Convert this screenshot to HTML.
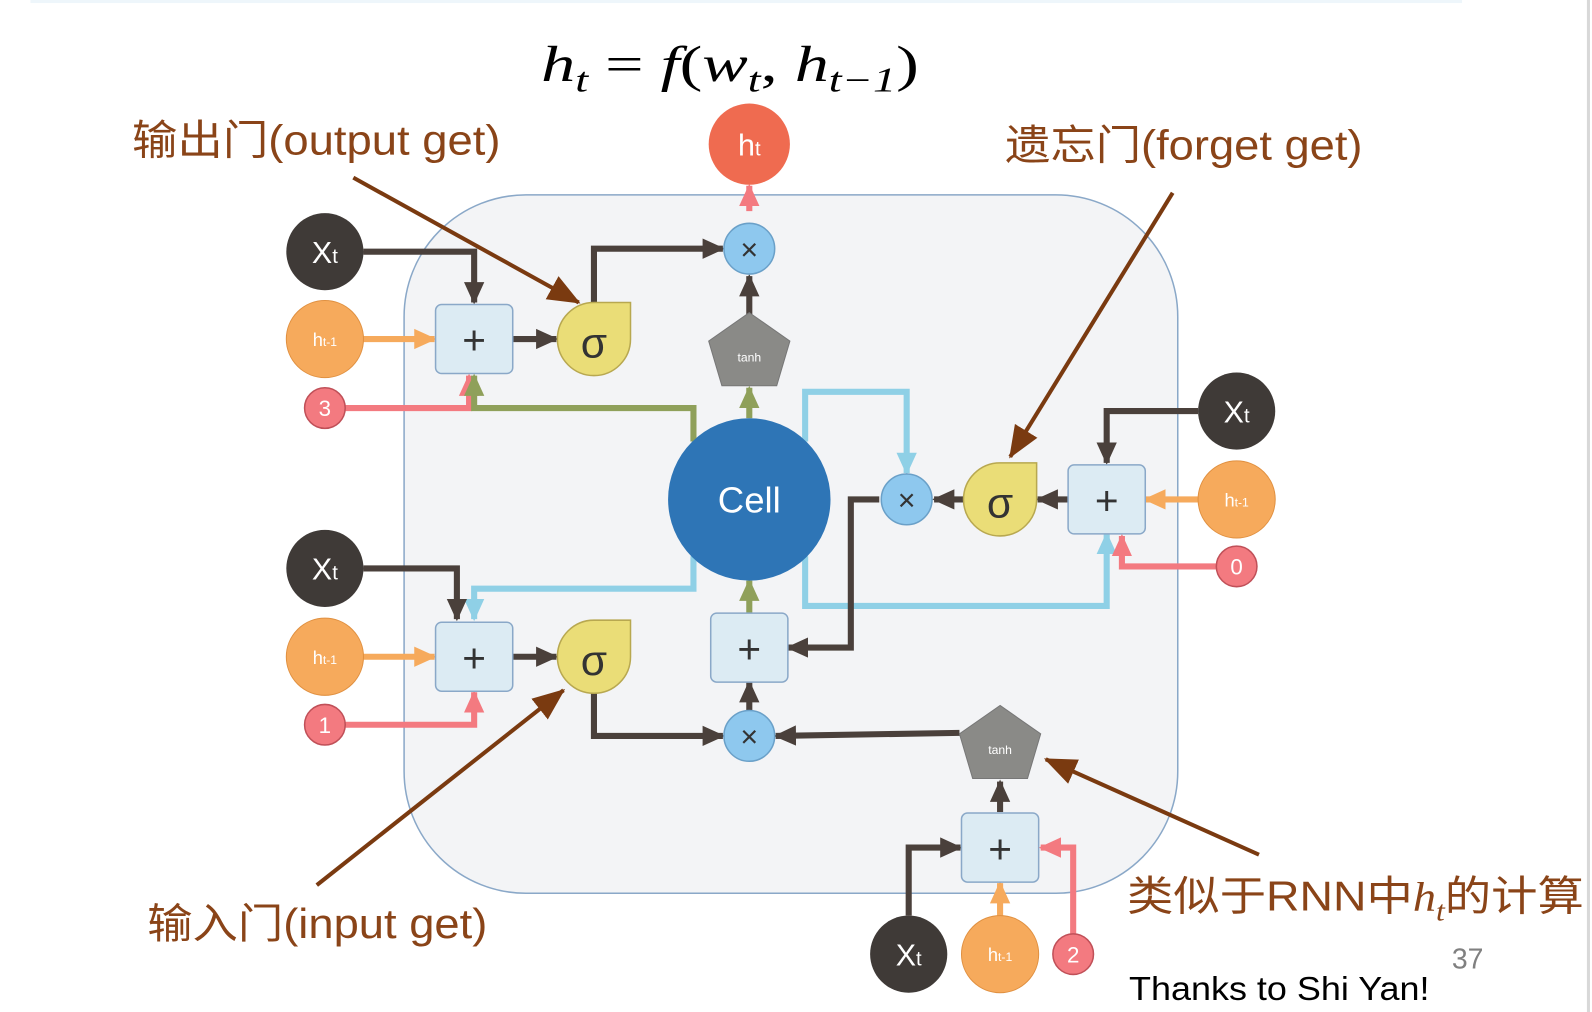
<!DOCTYPE html>
<html><head><meta charset="utf-8"><style>html,body{margin:0;padding:0;background:#fff;}svg{display:block}</style></head>
<body>
<svg width="1592" height="1012" viewBox="0 0 1568 997" preserveAspectRatio="none" xmlns="http://www.w3.org/2000/svg" font-family="Liberation Sans, Noto Sans CJK SC, sans-serif">
<defs>
<marker id="md" markerUnits="userSpaceOnUse" markerWidth="24" markerHeight="24" refX="20" refY="12" orient="auto"><path d="M0,2 L22,12 L0,22 Z" fill="#4a403b"/></marker>
<marker id="mo" markerUnits="userSpaceOnUse" markerWidth="24" markerHeight="24" refX="20" refY="12" orient="auto"><path d="M0,2 L22,12 L0,22 Z" fill="#f6aa5c"/></marker>
<marker id="mr" markerUnits="userSpaceOnUse" markerWidth="24" markerHeight="24" refX="20" refY="12" orient="auto"><path d="M0,2 L22,12 L0,22 Z" fill="#f37a80"/></marker>
<marker id="mg" markerUnits="userSpaceOnUse" markerWidth="24" markerHeight="24" refX="20" refY="12" orient="auto"><path d="M0,2 L22,12 L0,22 Z" fill="#8fa05a"/></marker>
<marker id="mb" markerUnits="userSpaceOnUse" markerWidth="24" markerHeight="24" refX="20" refY="12" orient="auto"><path d="M0,2 L22,12 L0,22 Z" fill="#8fd0e6"/></marker>
<marker id="mn" markerUnits="userSpaceOnUse" markerWidth="34" markerHeight="30" refX="30" refY="15" orient="auto"><path d="M0,2 L32,15 L0,28 Z" fill="#7a3a10"/></marker>
</defs>
<rect x="30" y="0" width="1410" height="3" fill="#eef6fb"/>
<rect x="1563" y="0" width="3" height="997" fill="#d8d8d8"/>
<rect x="398" y="192" width="762" height="688" rx="120" fill="#f3f4f6" stroke="#8aa8c8" stroke-width="1.5"/>

<g fill="none" stroke-width="6">
<path d="M683,548 V580 H467 V610" stroke="#8fd0e6" marker-end="url(#mb)"/>
<path d="M793,435 V386 H893 V466" stroke="#8fd0e6" marker-end="url(#mb)"/>
<path d="M793,548 V597 H1090 V526" stroke="#8fd0e6" marker-end="url(#mb)"/>
<path d="M340,402 H462 V370" stroke="#f37a80" marker-end="url(#mr)"/>
<path d="M340,714 H467 V682" stroke="#f37a80" marker-end="url(#mr)"/>
<path d="M1198,558 H1105 V528" stroke="#f37a80" marker-end="url(#mr)"/>
<path d="M1057,920 V835 H1025" stroke="#f37a80" marker-end="url(#mr)"/>
<path d="M738,208 V183" stroke="#f37a80" marker-end="url(#mr)"/>
<path d="M683,435 V402 H467 V370" stroke="#8fa05a" marker-end="url(#mg)"/>
<path d="M738,412 V382" stroke="#8fa05a" marker-end="url(#mg)"/>
<path d="M738,604 V572" stroke="#8fa05a" marker-end="url(#mg)"/>
<path d="M358,334 H428" stroke="#f6aa5c" marker-end="url(#mo)"/>
<path d="M358,647 H428" stroke="#f6aa5c" marker-end="url(#mo)"/>
<path d="M1180,492 H1128" stroke="#f6aa5c" marker-end="url(#mo)"/>
<path d="M985,902 V870" stroke="#f6aa5c" marker-end="url(#mo)"/>
<path d="M358,248 H467 V298" stroke="#4a403b" marker-end="url(#md)"/>
<path d="M505,334 H548" stroke="#4a403b" marker-end="url(#md)"/>
<path d="M585,300 V245 H712" stroke="#4a403b" marker-end="url(#md)"/>
<path d="M738,310 V272" stroke="#4a403b" marker-end="url(#md)"/>
<path d="M1180,405 H1090 V456" stroke="#4a403b" marker-end="url(#md)"/>
<path d="M1052,492 H1022" stroke="#4a403b" marker-end="url(#md)"/>
<path d="M950,492 H920" stroke="#4a403b" marker-end="url(#md)"/>
<path d="M866,492 H838 V638 H776" stroke="#4a403b" marker-end="url(#md)"/>
<path d="M738,700 V672" stroke="#4a403b" marker-end="url(#md)"/>
<path d="M585,683 V725 H712" stroke="#4a403b" marker-end="url(#md)"/>
<path d="M945,722 L764,725" stroke="#4a403b" marker-end="url(#md)"/>
<path d="M985,800 V770" stroke="#4a403b" marker-end="url(#md)"/>
<path d="M895,902 V835 H946" stroke="#4a403b" marker-end="url(#md)"/>
<path d="M358,560 H450 V610" stroke="#4a403b" marker-end="url(#md)"/>
<path d="M505,647 H548" stroke="#4a403b" marker-end="url(#md)"/>
</g>

<g font-size="30" text-anchor="middle">
<circle cx="738" cy="142" r="40" fill="#ef6b50"/><text x="738" y="153" fill="#fff">h<tspan font-size="20">t</tspan></text>
<circle cx="738" cy="492" r="80" fill="#2e75b6"/><text x="738" y="505" fill="#fff" font-size="36">Cell</text>
</g>
<g stroke="#6aa0c8" stroke-width="1.5" fill="#8ec8ee">
<circle cx="738" cy="245" r="25"/><circle cx="738" cy="725" r="25"/><circle cx="893" cy="492" r="25"/>
</g>
<g font-size="30" text-anchor="middle" fill="#333">
<text x="738" y="256">×</text><text x="738" y="736">×</text><text x="893" y="503">×</text>
</g>
<g fill="#8a8a87" stroke="#777" stroke-width="1">
<path d="M738,308 L778,336 L765,380 L711,380 L698,336 Z"/>
<path d="M985,695 L1025,723 L1012,767 L958,767 L945,723 Z"/>
</g>
<g fill="#fff" font-size="12" text-anchor="middle"><text x="738" y="356">tanh</text><text x="985" y="743">tanh</text></g>
<g fill="#dcebf3" stroke="#8aa8c8" stroke-width="1.5">
<rect x="429" y="300" width="76" height="68" rx="6"/><rect x="429" y="613" width="76" height="68" rx="6"/>
<rect x="700" y="604" width="76" height="68" rx="6"/><rect x="1052" y="458" width="76" height="68" rx="6"/>
<rect x="947" y="801" width="76" height="68" rx="6"/>
</g>
<g font-size="40" text-anchor="middle" fill="#333">
<text x="467" y="349">+</text><text x="467" y="662">+</text><text x="738" y="653">+</text><text x="1090" y="507">+</text><text x="985" y="850">+</text>
</g>
<g fill="#eadd77" stroke="#b8a850" stroke-width="1.5">
<path d="M549,334 A36,36 0 0 0 585,370 A36,36 0 0 0 621,334 L621,298 L585,298 A36,36 0 0 0 549,334 Z"/>
<path d="M549,647 A36,36 0 0 0 585,683 A36,36 0 0 0 621,647 L621,611 L585,611 A36,36 0 0 0 549,647 Z"/>
<path d="M949,492 A36,36 0 0 0 985,528 A36,36 0 0 0 1021,492 L1021,456 L985,456 A36,36 0 0 0 949,492 Z"/>
</g>
<g font-size="42" text-anchor="middle" fill="#333"><text x="585" y="352">σ</text><text x="585" y="665">σ</text><text x="985" y="510">σ</text></g>

<g fill="#3f3a37"><circle cx="320" cy="248" r="38"/><circle cx="320" cy="560" r="38"/><circle cx="1218" cy="405" r="38"/><circle cx="895" cy="940" r="38"/></g>
<g fill="#fff" font-size="30" text-anchor="middle">
<text x="320" y="259">X<tspan font-size="20">t</tspan></text><text x="320" y="571">X<tspan font-size="20">t</tspan></text>
<text x="1218" y="416">X<tspan font-size="20">t</tspan></text><text x="895" y="951">X<tspan font-size="20">t</tspan></text>
</g>
<g fill="#f6aa5c" stroke="#e09040" stroke-width="1"><circle cx="320" cy="334" r="38"/><circle cx="320" cy="647" r="38"/><circle cx="1218" cy="492" r="38"/><circle cx="985" cy="940" r="38"/></g>
<g fill="#fff" font-size="18" text-anchor="middle">
<text x="320" y="341">h<tspan font-size="12">t-1</tspan></text><text x="320" y="654">h<tspan font-size="12">t-1</tspan></text>
<text x="1218" y="499">h<tspan font-size="12">t-1</tspan></text><text x="985" y="947">h<tspan font-size="12">t-1</tspan></text>
</g>
<g fill="#f37a80" stroke="#c05058" stroke-width="1.5"><circle cx="320" cy="402" r="20"/><circle cx="320" cy="714" r="20"/><circle cx="1218" cy="558" r="20"/><circle cx="1057" cy="940" r="20"/></g>
<g fill="#fff" font-size="22" text-anchor="middle"><text x="320" y="410">3</text><text x="320" y="722">1</text><text x="1218" y="566">0</text><text x="1057" y="948">2</text></g>

<g stroke="#7a3a10" stroke-width="4" fill="none">
<path d="M348,175 L570,298" marker-end="url(#mn)"/>
<path d="M1155,190 L995,450" marker-end="url(#mn)"/>
<path d="M312,872 L555,680" marker-end="url(#mn)"/>
<path d="M1240,842 L1030,748" marker-end="url(#mn)"/>
</g>
<g fill="#8a4418" font-size="41">
<text x="130" y="152" textLength="363" lengthAdjust="spacingAndGlyphs">输出门(output get)</text>
<text x="990" y="157" textLength="352" lengthAdjust="spacingAndGlyphs">遗忘门(forget get)</text>
<text x="145" y="924" textLength="335" lengthAdjust="spacingAndGlyphs">输入门(input get)</text>
<text x="1110" y="897" textLength="450" lengthAdjust="spacingAndGlyphs">类似于RNN中<tspan font-family="Liberation Serif, serif" font-style="italic">h</tspan><tspan font-family="Liberation Serif, serif" font-style="italic" font-size="28" dy="10">t</tspan><tspan dy="-10">的计算</tspan></text>
</g>
<text x="533" y="80" font-family="Liberation Serif, serif" font-style="italic" font-size="50" fill="#000" textLength="372" lengthAdjust="spacingAndGlyphs">h<tspan font-size="34" dy="10">t</tspan><tspan dy="-10" font-style="normal"> = </tspan>f<tspan font-style="normal">(</tspan>w<tspan font-size="34" dy="10">t</tspan><tspan dy="-10" font-style="normal">, </tspan>h<tspan font-size="34" dy="10">t−1</tspan><tspan dy="-10" font-style="normal">)</tspan></text>
<text x="1112" y="985" font-size="33" fill="#000" textLength="296" lengthAdjust="spacingAndGlyphs">Thanks to Shi Yan!</text>
<text x="1430" y="954" font-size="28" fill="#808080">37</text>
</svg>
</body></html>
